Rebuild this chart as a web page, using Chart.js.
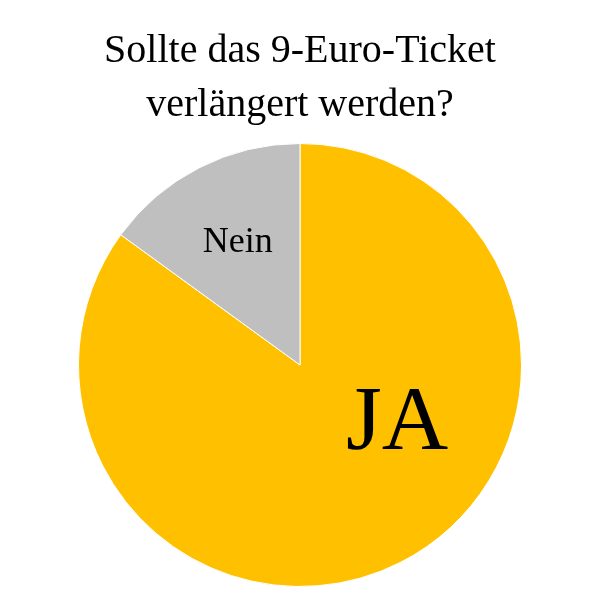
<!DOCTYPE html>
<html>
<head>
<meta charset="utf-8">
<script src="https://cdn.jsdelivr.net/npm/chart.js@4"></script>
<style>
  body { margin: 0; background: #fff; }
  #wrap { width: 600px; height: 600px; }
</style>
</head>
<body>
<div id="wrap"><canvas id="myChart" width="600" height="600"></canvas></div>
<script>
const titleLines = ['Sollte das 9-Euro-Ticket', 'verlängert werden?'];
const labels = ['JA', 'Nein'];
const values = [85, 15];
const colors = ['#FFC000', '#BFBFBF'];

// title + slice labels drawn on top of the pie
const textPlugin = {
    id: 'texts',
    afterDraw(chart) {
        const ctx = chart.ctx;
        ctx.save();
        ctx.fillStyle = '#000';
        ctx.textAlign = 'center';
        ctx.textBaseline = 'alphabetic';
        ctx.font = '40px "Liberation Serif"';
        ctx.fillText(titleLines[0], 300, 62);
        ctx.fillText(titleLines[1], 300, 116);

        const meta = chart.getDatasetMeta(0);
        const arcs = meta.data;
        // Nein
        const a1 = arcs[1];
        const mid1 = (a1.startAngle + a1.endAngle) / 2;
        const r1 = a1.outerRadius * 0.62;
        ctx.font = '36px "Liberation Serif"';
        ctx.textBaseline = 'middle';
        ctx.fillText(labels[1], a1.x + Math.cos(mid1) * r1, a1.y + Math.sin(mid1) * r1);
        // JA
        const a0 = arcs[0];
        ctx.font = '92px "Liberation Serif"';
        ctx.fillText(labels[0], a0.x + 97, a0.y + 60);
        ctx.restore();
    }
};

const config = {
    type: 'pie',
    data: {
        labels: labels,
        datasets: [{
            data: values,
            backgroundColor: colors,
            borderColor: '#fff',
            borderWidth: 1
        }]
    },
    options: {
        responsive: false,
        animation: false,
        layout: { padding: { top: 143, bottom: 13 } },
        plugins: {
            legend: { display: false },
            tooltip: { enabled: false }
        }
    },
    plugins: [textPlugin]
};

new Chart(document.getElementById('myChart'), config);
</script>
</body>
</html>
